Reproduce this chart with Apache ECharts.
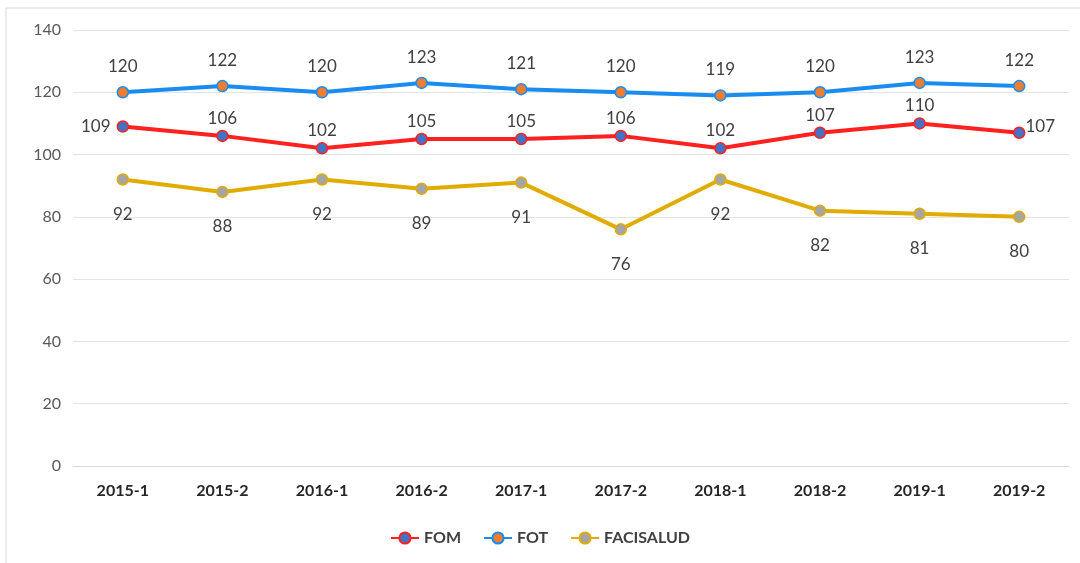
<!DOCTYPE html>
<html>
<head>
<meta charset="utf-8">
<script src="https://cdn.jsdelivr.net/npm/echarts@6/dist/echarts.min.js"></script>
<style>
  html, body { margin: 0; padding: 0; background: #fff; }
  #chart { width: 1080px; height: 563px; }
</style>
</head>
<body>
<div id="chart"></div>
<script>
// data
var periods = ["2015-1", "2015-2", "2016-1", "2016-2", "2017-1", "2017-2", "2018-1", "2018-2", "2019-1", "2019-2"];
var fom = [109, 106, 102, 105, 105, 106, 102, 107, 110, 107];
var fot = [120, 122, 120, 123, 121, 120, 119, 120, 123, 122];
var facisalud = [92, 88, 92, 89, 91, 76, 92, 82, 81, 80];
var yTicks = [0, 20, 40, 60, 80, 100, 120, 140];

var chart = echarts.init(document.getElementById("chart"));

var font = "Lato, 'Liberation Sans', sans-serif";

// FOM labels: first to the left, last to the right, the rest on top
var fomData = fom.map(function (v, i) {
    var lbl = {};
    if (i === 0) lbl = { position: "left", distance: 6 };
    else if (i === fom.length - 1) lbl = { position: "right", distance: 0, offset: [0, -6] };
    return { value: v, label: lbl };
});

function lineSeries(name, data, lineColor, dotColor, labelPos, labelDist) {
    return {
        name: name,
        type: "line",
        data: data,
        symbol: "circle",
        symbolSize: 11,
        lineStyle: { color: lineColor, width: 4 },
        itemStyle: { color: dotColor, borderColor: lineColor, borderWidth: 1.5 },
        label: {
            show: true,
            position: labelPos,
            distance: labelDist,
            color: "#404040",
            fontSize: 17,
            fontFamily: font
        },
        emphasis: { disabled: true },
        z: 3
    };
}

var option = {
    animation: false,
    backgroundColor: "#fff",
    graphic: [{
        type: "rect",
        shape: { x: 6, y: 8, width: 1200, height: 700 },
        style: { fill: "none", stroke: "#d9d9d9", lineWidth: 1 },
        silent: true
    }],
    grid: { left: 73, right: 11, top: 30, bottom: 97 },
    legend: {
        bottom: 12,
        left: "center",
        itemWidth: 28,
        itemHeight: 14,
        itemGap: 22,
        textStyle: { color: "#404040", fontSize: 16, fontWeight: "bold", fontFamily: font },
        data: ["FOM", "FOT", "FACISALUD"]
    },
    xAxis: {
        type: "category",
        data: periods,
        boundaryGap: true,
        axisLine: { lineStyle: { color: "#d9d9d9", width: 1 } },
        axisTick: { show: false },
        axisLabel: { color: "#262626", fontSize: 16, fontWeight: "bold", fontFamily: font, margin: 17 }
    },
    yAxis: {
        type: "value",
        min: yTicks[0],
        max: yTicks[yTicks.length - 1],
        interval: 20,
        axisLine: { show: false },
        axisTick: { show: false },
        axisLabel: { color: "#595959", fontSize: 16, fontFamily: font, margin: 12 },
        splitLine: { lineStyle: { color: "#e3e3e3", width: 1 } }
    },
    series: [
        lineSeries("FOM", fomData, "#ff2020", "#4472c4", "top", 3),
        lineSeries("FOT", fot, "#1a8cf0", "#ed7d31", "top", 11),
        lineSeries("FACISALUD", facisalud, "#e0ac00", "#a5a5a5", "bottom", 20)
    ]
};

chart.setOption(option);
</script>
</body>
</html>
